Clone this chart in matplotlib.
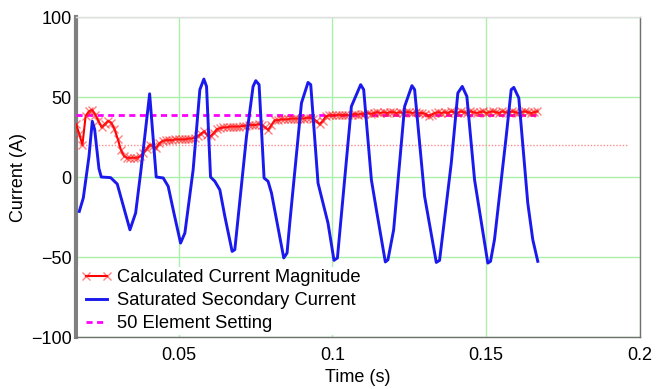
import numpy as np
import matplotlib
matplotlib.use("Agg")
import matplotlib.pyplot as plt

plt.rcParams['font.family'] = ['Liberation Sans', 'DejaVu Sans']

# relay samples, 16 per cycle at 60 Hz, starting one cycle in
FS = 960.0
T0 = 1.0 / 60

# calculated current magnitude (A), one value per sample
magnitude = [
    33, 27, 20, 38, 41, 42, 39, 35, 31, 33,
    35, 34, 30, 24, 17, 13, 12, 12, 12, 12,
    13, 15, 17.5, 20, 19.5, 18, 21, 22.5, 23, 23,
    23, 23.5, 23.5, 23.5, 23.5, 24, 24, 24.5, 25.5, 27,
    28.5, 26, 25.5, 27.5, 30, 30.5, 31, 31, 31.5, 31.5,
    31.5, 31.5, 32, 32, 32.5, 32.5, 32.5, 33, 32.5, 31,
    29.5, 32.5, 35.5, 35.5, 36, 36, 36, 36.5, 36.5, 36.5,
    36.5, 36.5, 37, 37, 36.5, 35, 33, 35, 38, 38.5,
    38.5, 38.5, 39, 38.5, 39, 38.5, 39, 39.5, 39, 39.5,
    39.5, 40, 39.5, 40, 40.5, 40, 40.5, 40, 40.5, 40.5,
    40, 40.5, 40, 40.5, 40.5, 40, 40.5, 40, 40, 39.5,
    38, 39, 40, 40.5, 40, 40.5, 40, 41, 40.5, 40,
    41, 40.5, 40, 41, 40.5, 40, 40.5, 41, 40, 40.5,
    41, 40.5, 40, 41, 40.5, 40, 41, 40.5, 40, 40.5,
    41, 40.5, 40, 40.5, 41,
]

# saturated CT secondary current, waveform vertices (ms, A)
secondary_ms = [
    17.74, 19.04, 20.89, 21.96, 22.74, 24.13, 24.88, 27.93, 30.08, 34.20,
    36.05, 37.67, 40.60, 42.74, 45.01, 46.63, 48.49, 50.66, 52.06, 54.75,
    56.93, 58.23, 59.10, 60.40, 61.80, 63.42, 65.05, 67.42, 68.29, 72.09,
    74.23, 75.11, 76.18, 77.80, 79.10, 80.21, 84.20, 85.27, 86.15, 89.95,
    92.09, 92.97, 95.34, 98.58, 100.53, 101.64, 106.18, 109.20, 110.18, 112.68,
    114.30, 117.22, 118.07, 119.92, 123.49, 125.86, 126.74, 129.98, 133.78, 134.85,
    138.65, 140.79, 142.22, 143.72, 146.22, 150.53, 151.41, 152.71, 156.51, 158.13,
    158.98, 160.60, 163.52, 165.15, 166.77,
]
secondary_amp = [
    -21.5, -13.1, 12.9, 34.8, 29.6, 5.2, 0, -0.4, -4.4, -33,
    -22.5, 2.5, 52, 0, -0.6, -5.8, -22.5, -41.3, -35, 4.6,
    54.6, 61.2, 56.6, 0, -2.7, -8, -24.6, -46.5, -45.4, 25.4,
    56.6, 60.2, 57.7, -0.6, -2.7, -10, -50.6, -47.5, -28.8, 46.2,
    59.1, 57.7, -3.8, -28.8, -52.1, -50.6, 44.1, 57.7, 54.6, -1.7,
    -20.4, -53.1, -51.7, -33, 44.1, 57.1, 54.6, -12.1, -53.4, -52.1,
    8.7, 52.5, 56.6, 50.4, -1.7, -53.8, -52.7, -39, 25.4, 54.6,
    56, 49.4, -16.3, -39.2, -52.7,
]

pickup = 39      # 50 element setting (A)
reference = 20   # dotted reference level (A)
ref_end = 0.196

t_mag = T0 + np.arange(len(magnitude)) / FS
t_sec = np.array(secondary_ms) / 1000.0

fig = plt.figure(figsize=(6.65, 3.89), dpi=100)
ax = fig.add_axes([76 / 665, 52 / 389, 564 / 665, 320 / 389])

ax.plot([T0, ref_end], [reference, reference], color='#ff8c8c', lw=1,
        ls=(0, (1, 1.3)), zorder=2)
h_set, = ax.plot([T0, t_mag[-1]], [pickup, pickup], color='#ff00ff', lw=2,
                 ls=(0, (2.2, 1.6)), zorder=3, label='50 Element Setting')
h_mag, = ax.plot(t_mag, magnitude, color='#ff0000', lw=1.5, marker='x',
                 ms=6, mew=1, mec=(1, 0.1, 0.1, 0.55), zorder=4,
                 label='Calculated Current Magnitude')
h_sec, = ax.plot(t_sec, secondary_amp, color='#1a1aee', lw=2.1, zorder=5,
                 label='Saturated Secondary Current')

ax.set_xlim(T0, 0.2)
ax.set_ylim(-100, 100)
ax.set_xticks([0.05, 0.1, 0.15, 0.2])
ax.set_xticklabels(['0.05', '0.1', '0.15', '0.2'])
ax.set_yticks([-100, -50, 0, 50, 100])
ax.tick_params(length=0, labelsize=13)
ax.tick_params(axis='y', pad=3)
ax.tick_params(axis='x', pad=7)
ax.grid(True, color='#aaf0aa', lw=1)
ax.set_axisbelow(True)

for side in ['bottom', 'right']:
    ax.spines[side].set_color('#707070')
    ax.spines[side].set_linewidth(1)
ax.spines['top'].set_color('#dddddd')
ax.spines['top'].set_linewidth(1)
ax.spines['left'].set_color('#808080')
ax.spines['left'].set_linewidth(3)

ax.set_xlabel('Time (s)', fontsize=13, labelpad=4)
ax.set_ylabel('Current (A)', fontsize=13, labelpad=3)

leg = ax.legend(handles=[h_mag, h_sec, h_set], loc='lower left',
                fontsize=13.2, frameon=True, framealpha=1, edgecolor='none',
                fancybox=False, numpoints=2, handlelength=1.75,
                handletextpad=0.25, labelspacing=0.33, borderpad=0.15,
                borderaxespad=0.1)
leg.get_frame().set_linewidth(0)

fig.savefig('out.png', dpi=100)
